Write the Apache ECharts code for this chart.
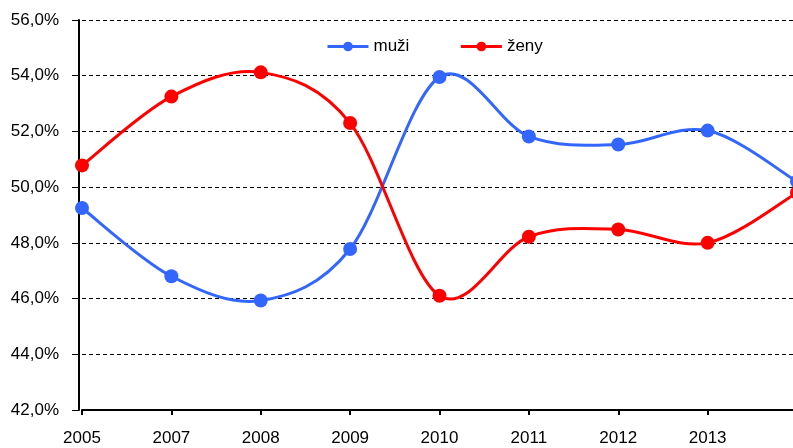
<!DOCTYPE html>
<html>
<head>
<meta charset="utf-8">
<script src="https://cdn.jsdelivr.net/npm/echarts@6/dist/echarts.min.js"></script>
<style>html,body{margin:0;padding:0;background:#fff}#c{width:793px;height:448px}</style>
</head>
<body>
<div id="c"></div>
<script>
const categories = ['2005','2007','2008','2009','2010','2011','2012','2013','2014'];
const muzi = [49.25, 46.8, 45.93, 47.78, 53.95, 51.82, 51.53, 52.03, 50.2];
const zeny = [50.78, 53.25, 54.12, 52.3, 46.1, 48.22, 48.48, 48.0, 49.8];
const yTicks = {min: 42, max: 56, interval: 2};

const BLUE = '#3366FF', RED = '#FF0000';
const font = 'Arial, "Liberation Sans", sans-serif';

// Excel-like smoothed segment (Catmull-Rom -> cubic Bezier) between data points, positioned via api.coord
function smoothSeg(values, color) {
  return function (params, api) {
    const i = params.dataIndex;
    const n = values.length;
    if (i >= n - 1) return null;
    const c = k => {
      const j = Math.max(0, Math.min(n - 1, k));
      return api.coord([j, values[j]]);
    };
    const p0 = c(i - 1), p1 = c(i), p2 = c(i + 1), p3 = c(i + 2);
    const t = 1 / 6;
    return {
      type: 'bezierCurve',
      shape: {
        x1: p1[0], y1: p1[1], x2: p2[0], y2: p2[1],
        cpx1: p1[0] + (p2[0] - p0[0]) * t, cpy1: p1[1] + (p2[1] - p0[1]) * t,
        cpx2: p2[0] - (p3[0] - p1[0]) * t, cpy2: p2[1] - (p3[1] - p1[1]) * t
      },
      style: {stroke: color, lineWidth: 3, fill: null, lineCap: 'round'}
    };
  };
}

const chart = echarts.init(document.getElementById('c'), null, {renderer: 'canvas'});
chart.setOption({
  animation: false,
  backgroundColor: '#fff',
  grid: {left: 82, right: -4, top: 20, bottom: 38, containLabel: false, outerBoundsMode: 'none'},
  legend: {
    left: 326, top: 38, padding: 0,
    itemWidth: 41, itemHeight: 12, itemGap: 50,
    textStyle: {fontFamily: font, fontSize: 17, color: '#000'},
    data: [
      {name: 'muži', lineStyle: {color: BLUE, width: 3, opacity: 1}, itemStyle: {color: BLUE}},
      {name: 'ženy', lineStyle: {color: RED, width: 3, opacity: 1}, itemStyle: {color: RED}}
    ]
  },
  xAxis: {
    type: 'category',
    data: categories,
    boundaryGap: false,
    axisLine: {lineStyle: {color: '#000', width: 2}},
    axisTick: {show: true, length: 5, lineStyle: {color: '#000', width: 2}},
    axisLabel: {
      fontFamily: font, fontSize: 17, color: '#000', margin: 20,
      interval: (i) => i < categories.length - 1
    },
    splitLine: {show: false}
  },
  yAxis: {
    type: 'value',
    min: yTicks.min, max: yTicks.max, interval: yTicks.interval,
    offset: 3,
    axisLine: {show: true, lineStyle: {color: '#000', width: 2}},
    axisTick: {show: true, length: 7, lineStyle: {color: '#000', width: 1}},
    axisLabel: {
      fontFamily: font, fontSize: 17, color: '#000', margin: 20,
      formatter: v => v.toFixed(1).replace('.', ',') + '%'
    },
    splitLine: {show: true, lineStyle: {color: '#000', width: 1, type: [4, 3]}}
  },
  series: [
    {
      name: 'muži-curve', type: 'custom', clip: false, z: 2,
      data: muzi.map((v, i) => [i, v]), encode: {x: 0, y: 1},
      renderItem: smoothSeg(muzi, BLUE)
    },
    {
      name: 'ženy-curve', type: 'custom', clip: false, z: 2,
      data: zeny.map((v, i) => [i, v]), encode: {x: 0, y: 1},
      renderItem: smoothSeg(zeny, RED)
    },
    {
      name: 'muži', type: 'line', data: muzi, z: 3,
      symbol: 'circle', symbolSize: 14,
      lineStyle: {color: BLUE, width: 3, opacity: 0},
      itemStyle: {color: BLUE}, clip: false
    },
    {
      name: 'ženy', type: 'line', data: zeny, z: 3,
      symbol: 'circle', symbolSize: 14,
      lineStyle: {color: RED, width: 3, opacity: 0},
      itemStyle: {color: RED}, clip: false
    }
  ]
});
</script>
</body>
</html>
